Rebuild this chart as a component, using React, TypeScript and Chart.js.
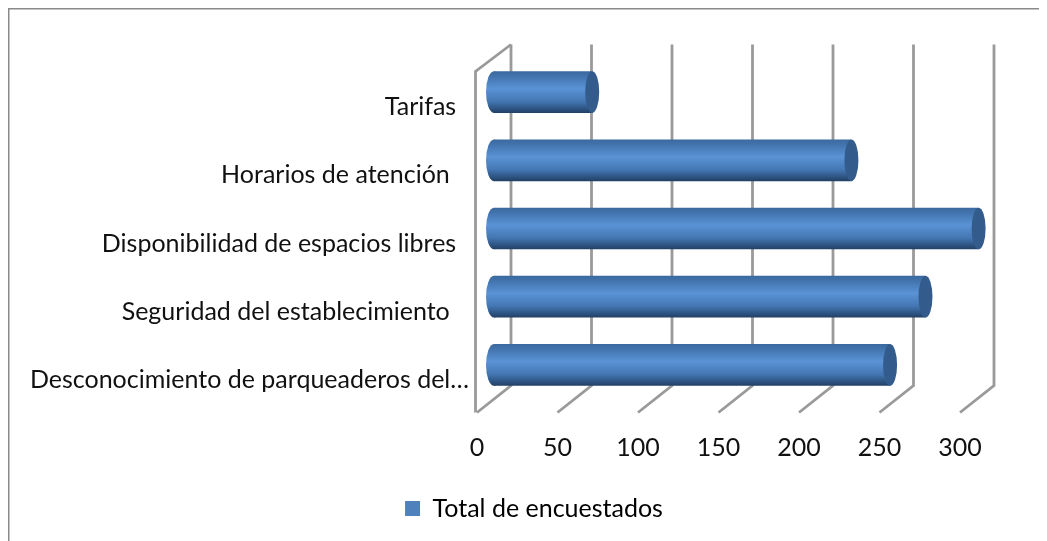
import React, { useEffect, useRef } from "react";
import { Chart, registerables } from "chart.js";

Chart.register(...registerables);

const categories = [
  "Tarifas  ",
  "Horarios de atención   ",
  "Disponibilidad de espacios libres  ",
  "Seguridad del establecimiento   ",
  "Desconocimiento de parqueaderos del…",
];
const totals = [61, 222, 301, 268, 246];
const seriesName = "Total de encuestados";
const tickStep = 50;
const axisMax = 300;

const FONT = "Lato";
const FONT_SIZE = 25;
const DEPTH_X = 34;
const DEPTH_Y = 13.5;
const SHIFT = 17;
const GRID = "#9a9a9a";

function barGradient(ctx: CanvasRenderingContext2D, top: number, bottom: number) {
  const g = ctx.createLinearGradient(0, top, 0, bottom);
  g.addColorStop(0, "#3b699e");
  g.addColorStop(0.12, "#4273ad");
  g.addColorStop(0.42, "#5a93d6");
  g.addColorStop(0.72, "#4477b3");
  g.addColorStop(0.9, "#2d5381");
  g.addColorStop(1, "#213f63");
  return g;
}

const scenePlugin = {
  id: "scene",
  afterLayout(chart: any) {
    chart.legend.left += 50;
    chart.legend.right += 50;
  },
  beforeDraw(chart: any) {
    const { ctx, width, height } = chart;
    ctx.save();
    ctx.strokeStyle = "#8a8a8a";
    ctx.lineWidth = 1.5;
    ctx.beginPath();
    ctx.moveTo(0.75, height);
    ctx.lineTo(0.75, 0.75);
    ctx.lineTo(width, 0.75);
    ctx.stroke();
    ctx.restore();
  },
  beforeDatasetsDraw(chart: any) {
    const { ctx, chartArea } = chart;
    const xs = chart.scales.x;
    ctx.save();
    ctx.strokeStyle = GRID;
    ctx.lineWidth = 2.8;
    const top = chartArea.top - DEPTH_Y;
    const bottom = chartArea.bottom - DEPTH_Y;
    const frontBottom = chartArea.bottom + DEPTH_Y;
    xs.ticks.forEach((t: any) => {
      const x = xs.getPixelForValue(t.value);
      ctx.beginPath();
      ctx.moveTo(x + DEPTH_X, top);
      ctx.lineTo(x + DEPTH_X, bottom);
      ctx.lineTo(x, frontBottom);
      ctx.stroke();
    });
    const x0 = xs.getPixelForValue(0);
    ctx.beginPath();
    ctx.moveTo(x0 + DEPTH_X, top);
    ctx.lineTo(x0 - 1.5, chartArea.top + DEPTH_Y);
    ctx.lineTo(x0 - 1.5, frontBottom);
    ctx.stroke();
    ctx.restore();

    const bars = chart.getDatasetMeta(0).data;
    ctx.save();
    ctx.translate(SHIFT, 0);
    bars.forEach((b: any) => {
      const t = b.y - b.height / 2;
      ctx.fillStyle = barGradient(ctx, t, t + b.height);
      ctx.beginPath();
      ctx.ellipse(b.base, b.y, 8, b.height / 2, 0, 0, Math.PI * 2);
      ctx.fill();
    });
  },
  afterDatasetsDraw(chart: any) {
    const { ctx } = chart;
    const bars = chart.getDatasetMeta(0).data;
    bars.forEach((b: any) => {
      ctx.fillStyle = "#335c8c";
      ctx.beginPath();
      ctx.ellipse(b.x, b.y, 7, b.height / 2, 0, 0, Math.PI * 2);
      ctx.fill();
    });
    ctx.restore();
  },
};

export default function App() {
  const ref = useRef<HTMLCanvasElement>(null);
  useEffect(() => {
    const chart = new Chart(ref.current as HTMLCanvasElement, {
      type: "bar",
      data: {
        labels: categories,
        datasets: [
          {
            label: seriesName,
            data: totals,
            clip: false,
            barPercentage: 0.68,
            categoryPercentage: 0.9,
            backgroundColor: (c: any) => {
              const ch = c.chart;
              if (!ch.chartArea || c.dataIndex === undefined) return "#4F81BD";
              const y = ch.scales.y.getPixelForValue(c.dataIndex);
              return barGradient(ch.ctx, y - 21, y + 21);
            },
          } as any,
        ],
      },
      options: {
        indexAxis: "y",
        responsive: false,
        animation: false,
        layout: { padding: { left: 0, right: 87, top: 50, bottom: 10 } },
        scales: {
          x: {
            type: "linear",
            min: 0,
            max: axisMax,
            grid: { display: false },
            border: { display: false },
            ticks: {
              stepSize: tickStep,
              padding: 26,
              maxRotation: 0,
              color: "#111",
              font: { family: FONT, size: FONT_SIZE },
            },
            afterFit: (s: any) => {
              s.height = 87;
            },
          },
          y: {
            type: "category",
            grid: { display: false },
            border: { display: false },
            ticks: {
              autoSkip: false,
              padding: 0,
              labelOffset: 15,
              color: "#111",
              font: { family: FONT, size: FONT_SIZE },
            },
            afterFit: (s: any) => {
              s.width = 469;
            },
          },
        },
        plugins: {
          tooltip: { enabled: false },
          legend: {
            position: "bottom",
            labels: {
              color: "#111",
              font: { family: FONT, size: FONT_SIZE },
              boxWidth: 15,
              boxHeight: 15,
              padding: 10,
              generateLabels: (c: any) => [
                {
                  text: c.data.datasets[0].label,
                  fillStyle: "#4F81BD",
                  strokeStyle: "#4F81BD",
                  lineWidth: 0,
                  datasetIndex: 0,
                },
              ],
            },
          },
        },
      },
      plugins: [scenePlugin as any],
    } as any);
    return () => chart.destroy();
  }, []);
  return (
    <canvas
      ref={ref}
      width={1039}
      height={533}
      style={{ display: "block", width: 1039, height: 533 }}
    />
  );
}
